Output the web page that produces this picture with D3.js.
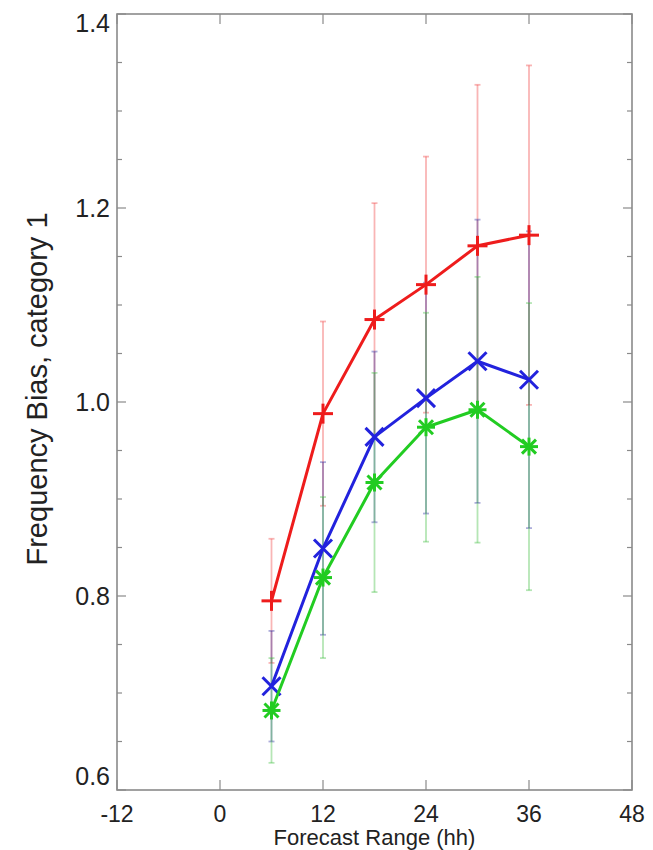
<!DOCTYPE html>
<html>
<head>
<meta charset="utf-8">
<script src="https://cdn.jsdelivr.net/npm/d3@7"></script>
<style>
  html, body { margin: 0; padding: 0; background: #fff; }
  svg { display: block; }
  text { font-family: "Liberation Sans", Arial, Helvetica, sans-serif; fill: #222; }
</style>
</head>
<body>
<svg id="chart" width="653" height="850"></svg>
<script>
// ---- data ----
const forecastHours = [6, 12, 18, 24, 30, 36];
const redBias   = [0.795, 0.988, 1.085, 1.121, 1.161, 1.172];
const redErr    = [0.064, 0.095, 0.120, 0.132, 0.166, 0.175];
const blueBias  = [0.707, 0.849, 0.964, 1.004, 1.042, 1.023];
const blueErr   = [0.057, 0.089, 0.088, 0.119, 0.146, 0.153];
const greenBias = [0.682, 0.819, 0.917, 0.974, 0.992, 0.954];
const greenErr  = [0.054, 0.083, 0.113, 0.118, 0.137, 0.148];
const xTicks = [-12, 0, 12, 24, 36, 48];
const yTicks = [0.6, 0.8, 1.0, 1.2, 1.4];
const yMinorTicks = d3.range(0.6, 1.4001, 0.05);
const xLabel = "Forecast Range (hh)";
const yLabel = "Frequency Bias, category 1";

// ---- layout ----
const svg = d3.select("#chart");
const pL = 117, pR = 632, pT = 14, pB = 790;
const x = d3.scaleLinear().domain([-12, 48]).range([pL, pR]);
const y = d3.scaleLinear().domain([0.6, 1.4]).range([pB, pT]);

const axisColor = "#8a8a8a";

// frame
svg.append("rect").attr("x", pL).attr("y", pT)
  .attr("width", pR - pL).attr("height", pB - pT)
  .attr("fill", "none").attr("stroke", axisColor).attr("stroke-width", 1.6);

// y ticks (left & right), inward
const g = svg.append("g").attr("stroke", axisColor).attr("stroke-width", 1.2);
yMinorTicks.forEach(v => {
  const isMajor = yTicks.some(t => Math.abs(t - v) < 1e-6);
  const len = isMajor ? 9 : 5;
  g.append("line").attr("x1", pL).attr("x2", pL + len).attr("y1", y(v)).attr("y2", y(v));
  g.append("line").attr("x1", pR).attr("x2", pR - len).attr("y1", y(v)).attr("y2", y(v));
});
// x ticks (bottom & top), inward
xTicks.forEach(v => {
  g.append("line").attr("x1", x(v)).attr("x2", x(v)).attr("y1", pB).attr("y2", pB - 10);
  g.append("line").attr("x1", x(v)).attr("x2", x(v)).attr("y1", pT).attr("y2", pT + 10);
});

// tick labels
svg.append("g").selectAll("text").data(yTicks).join("text")
  .attr("x", pL - 7).attr("y", d => Math.min(Math.max(y(d), pT + 9), pB - 14)).attr("dy", "0.36em")
  .attr("text-anchor", "end").attr("font-size", 25)
  .text(d => d3.format(".1f")(d));
svg.append("g").selectAll("text").data(xTicks).join("text")
  .attr("x", d => x(d)).attr("y", pB + 32)
  .attr("text-anchor", "middle").attr("font-size", 23)
  .text(d => d);

// axis titles
svg.append("text").attr("x", (pL + pR) / 2).attr("y", 845)
  .attr("text-anchor", "middle").attr("font-size", 22).text(xLabel);
svg.append("text").attr("transform", `translate(47,${389}) rotate(-90)`)
  .attr("text-anchor", "middle").attr("font-size", 29).text(yLabel);

// series
const series = [
  { name: "red",   vals: redBias,   err: redErr,   color: "#ee1c1c", barColor: "rgba(240,60,60,0.38)",  marker: "plus" },
  { name: "blue",  vals: blueBias,  err: blueErr,  color: "#2222dd", barColor: "rgba(40,40,160,0.38)",  marker: "cross" },
  { name: "green", vals: greenBias, err: greenErr, color: "#22cc22", barColor: "rgba(60,190,60,0.38)", marker: "star" }
];

// error bars first
series.forEach(s => {
  const eg = svg.append("g").attr("stroke", s.barColor).attr("stroke-width", 1.8);
  forecastHours.forEach((h, i) => {
    const cx = x(h), lo = y(s.vals[i] - s.err[i]), hi = y(s.vals[i] + s.err[i]);
    eg.append("line").attr("x1", cx).attr("x2", cx).attr("y1", lo).attr("y2", hi);
    eg.append("line").attr("x1", cx - 3).attr("x2", cx + 3).attr("y1", lo).attr("y2", lo);
    eg.append("line").attr("x1", cx - 3).attr("x2", cx + 3).attr("y1", hi).attr("y2", hi);
  });
});

// lines and markers
const line = d3.line().x((d, i) => x(forecastHours[i])).y(d => y(d));
series.forEach(s => {
  svg.append("path").datum(s.vals).attr("d", line)
    .attr("fill", "none").attr("stroke", s.color).attr("stroke-width", 3)
    .attr("stroke-linejoin", "round");
  const mg = svg.append("g").attr("stroke", s.color).attr("stroke-width", 3).attr("stroke-linecap", "butt");
  forecastHours.forEach((h, i) => {
    const cx = x(h), cy = y(s.vals[i]);
    if (s.marker === "plus" || s.marker === "star") {
      const r = s.marker === "plus" ? 10 : 9;
      mg.append("line").attr("x1", cx - r).attr("x2", cx + r).attr("y1", cy).attr("y2", cy);
      mg.append("line").attr("x1", cx).attr("x2", cx).attr("y1", cy - r).attr("y2", cy + r);
    }
    if (s.marker === "cross" || s.marker === "star") {
      const r = s.marker === "cross" ? 9 : 7;
      mg.append("line").attr("x1", cx - r).attr("x2", cx + r).attr("y1", cy - r).attr("y2", cy + r);
      mg.append("line").attr("x1", cx - r).attr("x2", cx + r).attr("y1", cy + r).attr("y2", cy - r);
    }
  });
});
</script>
</body>
</html>
